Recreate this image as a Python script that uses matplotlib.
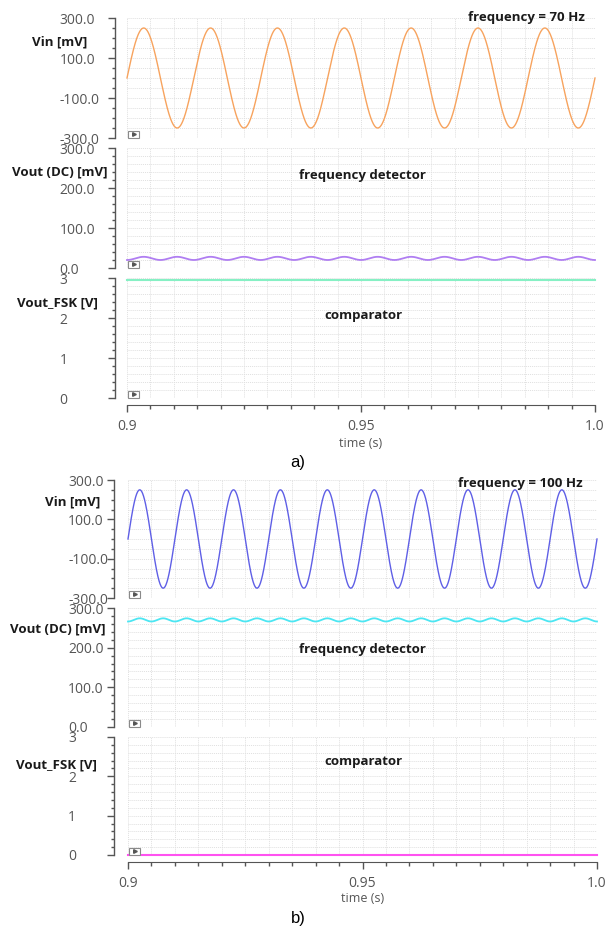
import numpy as np
import matplotlib.pyplot as plt
from matplotlib.patches import Rectangle

# figure size in pixels
W, H = 605, 927

# values (one entry per case: a) and b))
freq_hz = [70, 100]              # input frequency
vin_amp_mv = [250, 250]          # input amplitude
vdc_level_mv = [24, 270]         # frequency detector output level
vdc_ripple_mv = [4, 4]           # ripple on detector output (at 2*f)
fsk_level_v = [2.95, 0.0]        # comparator output
case_names = ['a)', 'b)']

vin_ticks = [-300, -100, 100, 300]
vdc_ticks = [0, 100, 200, 300]
fsk_ticks = [0, 1, 2, 3]
time_ticks = [0.9, 0.95, 1.0]

vin_color = ['#f7a35e', '#5f5fe6']
vdc_color = ['#b07ef2', '#4ce6f2']
fsk_color = ['#86f0c4', '#ff52f0']

# layout (pixels): x range and panel top/bottom of each case
x_px = [(127, 595), (128, 597)]
panels_px = [[(18, 138), (148, 268), (278, 398)],
             [(480, 598), (608, 727), (737, 855)]]
ylab_px = [[(87, 42, 'Vin [mV]'), (108, 172, 'Vout (DC) [mV]'), (98, 303, 'Vout_FSK [V]')],
           [(100, 502, 'Vin [mV]'), (106, 629, 'Vout (DC) [mV]'), (97, 765, 'Vout_FSK [V]')]]
label_left_px = [63, 72]
freq_txt_px = [(585, 18), (583, 483)]
center_txt_y = [[175, 316], [650, 762]]
time_lab_y = [443, 898]
case_lab_y = [463, 918]

plt.rcParams['font.family'] = 'Open Sans'

fig = plt.figure(figsize=(W / 100, H / 100), dpi=100)


def rect(x0, x1, top, bottom):
    return [x0 / W, 1 - bottom / H, (x1 - x0) / W, (bottom - top) / H]


def fxy(x, y):
    return x / W, 1 - y / H


t = np.linspace(0.9, 1.0, 3000)

for k in range(2):
    x0, x1 = x_px[k]
    f = freq_hz[k]
    vin = vin_amp_mv[k] * np.sin(2 * np.pi * f * (t - 0.9))
    vdc = vdc_level_mv[k] - vdc_ripple_mv[k] * np.cos(2 * np.pi * 2 * f * (t - 0.9))
    fsk = np.full_like(t, fsk_level_v[k])

    series = [(vin, vin_color[k], (-300, 300), vin_ticks, 50, '%.1f', 1.0),
              (vdc, vdc_color[k], (0, 300), vdc_ticks, 20, '%.1f', 1.3),
              (fsk, fsk_color[k], (0, 3), fsk_ticks, 0.2, '%d', 1.5)]

    for i, (y, col, ylim, yt, ystep, fmt, lw) in enumerate(series):
        top, bot = panels_px[k][i]
        ax = fig.add_axes(rect(x0, x1, top, bot))
        ax.plot(t, y, color=col, lw=lw, clip_on=False, zorder=3)
        ax.set_xlim(0.9, 1.0)
        ax.set_ylim(*ylim)

        for s in ['top', 'right']:
            ax.spines[s].set_visible(False)
        ax.spines['left'].set_position(('outward', x0 - 118))
        ax.spines['left'].set_color('#555555')
        ax.spines['left'].set_linewidth(1.0)

        ax.set_yticks(yt)
        ax.set_yticklabels([fmt % v for v in yt])
        ax.set_yticks(np.arange(ylim[0], ylim[1] + ystep / 2, ystep), minor=True)
        pad_px = 118 - 7 - label_left_px[k]
        ax.tick_params(axis='y', which='major', length=5, width=1.0, color='#555555',
                       labelsize=10, labelcolor='#555555', pad=pad_px * 0.72)
        ax.tick_params(axis='y', which='minor', length=2.5, width=1.0, color='#555555')
        for lb in ax.get_yticklabels():
            lb.set_ha('left')

        ax.set_xticks(np.arange(0.9, 1.0 + 0.0025, 0.005), minor=True)
        ax.grid(True, which='both', color='#e0e0e0', lw=0.7, ls=(0, (1, 1)))
        ax.set_axisbelow(True)

        if i < 2:
            ax.spines['bottom'].set_visible(False)
            ax.tick_params(axis='x', which='both', bottom=False, labelbottom=False)
            ax.set_xticks(time_ticks)
        else:
            ax.spines['bottom'].set_position(('outward', 5))
            ax.spines['bottom'].set_color('#555555')
            ax.set_xticks(time_ticks)
            ax.set_xticklabels(['0.9', '0.95', '1.0'])
            ax.tick_params(axis='x', which='major', length=5, width=1.0, color='#555555',
                           labelsize=10, labelcolor='#555555', pad=5)
            ax.tick_params(axis='x', which='minor', length=3, width=1.0, color='#555555')

        # small play-button box in the corner
        bw, bh = 11 / (x1 - x0), 7 / (bot - top)
        ax.add_patch(Rectangle((1 / (x1 - x0), 0.5 / (bot - top)), bw, bh,
                               transform=ax.transAxes, fc='white', ec='#8a8a8a',
                               lw=0.8, zorder=5, clip_on=False))
        ax.plot([1 / (x1 - x0) + bw / 2], [0.5 / (bot - top) + bh / 2], marker='>',
                ms=2.6, color='#555555', transform=ax.transAxes, zorder=6,
                clip_on=False)

        # y label
        lx, ly, txt = ylab_px[k][i]
        fig.text(*fxy(lx, ly), txt, ha='right', va='center', fontsize=9.5,
                 fontweight='bold', color='#1a1a1a')

    fx, fy = freq_txt_px[k]
    fig.text(*fxy(fx, fy), 'frequency = %d Hz' % f, ha='right', va='center',
             fontsize=9.5, fontweight='bold', color='#1a1a1a')
    fig.text(*fxy(362, center_txt_y[k][0]), 'frequency detector', ha='center',
             va='center', fontsize=9.5, fontweight='bold', color='#1a1a1a')
    fig.text(*fxy(363, center_txt_y[k][1]), 'comparator', ha='center',
             va='center', fontsize=9.5, fontweight='bold', color='#1a1a1a')
    fig.text(*fxy((x0 + x1) / 2, time_lab_y[k]), 'time (s)', ha='center',
             va='center', fontsize=9, color='#555555')
    fig.text(*fxy(298, case_lab_y[k]), case_names[k], ha='center', va='center',
             fontsize=12, color='black', family='Liberation Sans')

fig.savefig('out.png', dpi=100)
